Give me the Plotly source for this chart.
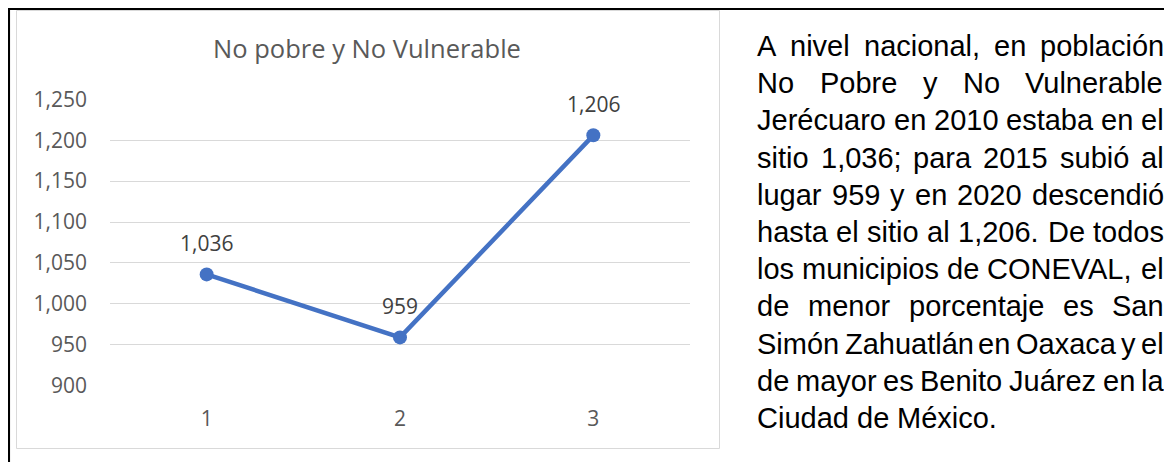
import plotly.graph_objects as go

# ---------------- data ----------------
categories = ["1", "2", "3"]
values = [1036, 959, 1206]
y_ticks = [900, 950, 1000, 1050, 1100, 1150, 1200, 1250]
chart_title = "No pobre y No Vulnerable"
paragraph_lines = [
    "A nivel nacional, en población",
    "No Pobre y No Vulnerable",
    "Jerécuaro en 2010 estaba en el",
    "sitio 1,036; para 2015 subió al",
    "lugar 959 y en 2020 descendió",
    "hasta el sitio al 1,206. De todos",
    "los municipios de CONEVAL, el",
    "de menor porcentaje es San",
    "Simón Zahuatlán en Oaxaca y el",
    "de mayor es Benito Juárez en la",
    "Ciudad de México.",
]

# ---------------- layout geometry (page pixels) ----------------
OFF = 8                           # page body margin
W, H = 1172 - OFF, 470 - 2 * OFF  # figure size (no scrollbars)
PL, PR, PT, PB = 110, 690, 99, 386   # plot area in page pixels
ML, MR, MT, MB = PL - OFF, (W + OFF) - PR, PT - OFF, (H + OFF) - PB
PW, PH = W - ML - MR, H - MT - MB


def px_x(X):
    return (X - PL) / PW


def px_y(Y):
    return (PB - Y) / PH


# Arial / Liberation Sans advance widths (per 1000 em)
ARIAL = {
    " ": 278, ",": 278, ".": 278, ";": 278,
    "a": 556, "b": 556, "c": 500, "d": 556, "e": 556, "f": 278, "g": 556,
    "h": 556, "i": 222, "j": 222, "k": 500, "l": 222, "m": 833, "n": 556,
    "o": 556, "p": 556, "q": 556, "r": 333, "s": 500, "t": 278, "u": 556,
    "v": 500, "w": 722, "x": 500, "y": 500, "z": 500,
    "á": 556, "é": 556, "ó": 556,
    "A": 667, "B": 667, "C": 722, "D": 722, "E": 667, "J": 500, "L": 556,
    "M": 833, "N": 722, "O": 778, "P": 667, "S": 667, "V": 667,
}
for d in "0123456789":
    ARIAL[d] = 556


def text_w(s, size):
    return sum(ARIAL.get(ch, 556) for ch in s) * size / 1000.0


fig = go.Figure()
fig.add_trace(go.Scatter(
    x=categories, y=values, mode="lines+markers",
    line=dict(color="#4472C4", width=4.5),
    marker=dict(color="#4472C4", size=14),
    cliponaxis=False, hoverinfo="skip",
))

annotations = []
# data labels (category index positions on the category axis)
for idx, v in enumerate(values):
    annotations.append(dict(
        x=idx, y=v, xref="x", yref="y", text=f"{v:,}", showarrow=False,
        yshift=31, font=dict(family="Open Sans", size=21, color="#404040"),
    ))

# justified paragraph
FS = 29
L, R = 758, 1165
LINE0, LH = 46, 37.2
for i, line in enumerate(paragraph_lines):
    words = line.split(" ")
    widths = [text_w(w, FS) for w in words]
    last = i == len(paragraph_lines) - 1
    if last or len(words) == 1:
        gap = text_w(" ", FS)
    else:
        gap = max((R - L - sum(widths)) / (len(words) - 1), text_w(" ", FS) * 0.5)
    xpos = L
    for w, wd in zip(words, widths):
        annotations.append(dict(
            x=px_x(xpos - 1), y=px_y(LINE0 + i * LH), xref="paper", yref="paper",
            text=w, showarrow=False, xanchor="left", yanchor="middle",
            borderpad=0, borderwidth=0,
            font=dict(family="Liberation Sans", size=FS, color="#000000"),
        ))
        xpos += wd + gap

shapes = [
    # chart frame
    dict(type="rect", xref="paper", yref="paper",
         x0=px_x(16.5), x1=px_x(719.5), y0=px_y(448.5), y1=px_y(10.5),
         line=dict(color="#d9d9d9", width=1), layer="below"),
    # outer black border
    dict(type="rect", xref="paper", yref="paper",
         x0=px_x(8.8), x1=px_x(1250), y0=px_y(560), y1=px_y(8.8),
         line=dict(color="#000000", width=2.5)),
]

fig.update_layout(
    width=W, height=H,
    margin=dict(l=ML, r=MR, t=MT, b=MB, pad=0),
    paper_bgcolor="white", plot_bgcolor="white",
    showlegend=False,
    title=dict(text=chart_title, x=(367 - OFF) / W, y=1 - (49 - OFF) / H,
               xref="container", yref="container",
               xanchor="center", yanchor="middle",
               font=dict(family="Open Sans", size=25.5, color="#595959")),
    xaxis=dict(type="category", range=[-0.5, 2.5], showgrid=False,
               showline=False, zeroline=False, ticks="",
               ticklabelstandoff=18,
               tickfont=dict(family="Open Sans", size=21, color="#595959")),
    yaxis=dict(range=[899.6, 1250.4], tickvals=y_ticks, tickformat=",",
               showgrid=True, gridcolor="#d9d9d9", gridwidth=1,
               showline=False, zeroline=False, ticks="",
               ticklabelstandoff=22,
               tickfont=dict(family="Open Sans", size=21, color="#595959")),
    annotations=annotations,
    shapes=shapes,
)

fig.write_html("out.html")
